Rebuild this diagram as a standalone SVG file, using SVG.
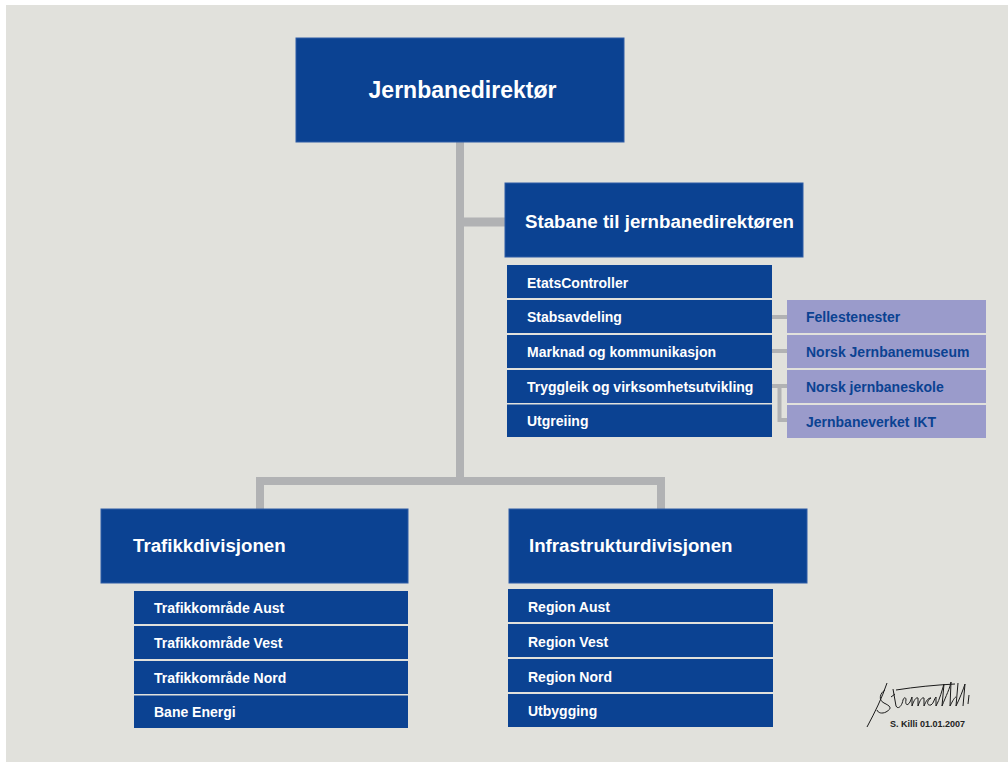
<svg xmlns="http://www.w3.org/2000/svg" width="1008" height="762" viewBox="0 0 1008 762">
<style>
.bg{fill:#e1e1dc}
.big{fill:#0b4292;stroke:#2f5ca6;stroke-width:1}
.row{fill:#0b4292}
.sub{fill:#9a9bcb}
.ln{stroke:#b1b2b4;fill:none}
.t{font-family:"Liberation Sans",Arial,sans-serif;font-weight:bold;fill:#ffffff}
.h1{font-size:23px}
.h2{font-size:18.7px}
.r{font-size:14px}
.p{font-size:14px;fill:#0b4292}
.sig{font-family:"Liberation Sans",Arial,sans-serif;font-weight:bold;font-size:9px;fill:#222}
</style>
<rect width="1008" height="762" fill="#ffffff"/>
<rect class="bg" x="6" y="5" width="1002" height="757"/>
<g id="connectors">
<line class="ln" x1="460" y1="142" x2="460" y2="485" stroke-width="8"/>
<line class="ln" x1="460" y1="222" x2="505" y2="222" stroke-width="9"/>
<polyline class="ln" points="260,509 260,481 661,481 661,509" stroke-width="8"/>
<line class="ln" x1="772" y1="317" x2="787" y2="317" stroke-width="4"/>
<line class="ln" x1="772" y1="351" x2="787" y2="351" stroke-width="4"/>
<line class="ln" x1="772" y1="386" x2="787" y2="386" stroke-width="4"/>
<polyline class="ln" points="779.5,386 779.5,420 787,420" stroke-width="4"/>
</g>
<g id="jernbanedirektor">
<rect class="big" x="296" y="38" width="328" height="104"/>
<text class="t h1" x="462.5" y="98" text-anchor="middle">Jernbanedirektør</text>
</g>
<g id="stabane">
<rect class="big" x="505" y="183" width="298" height="74"/>
<text class="t h2" x="525" y="228">Stabane til jernbanedirektøren</text>
</g>
<g id="stab-list">
<rect class="row" x="507" y="265" width="265" height="33"/>
<text class="t r" x="527" y="288">EtatsController</text>
<rect class="row" x="507" y="300" width="265" height="33"/>
<text class="t r" x="527" y="322">Stabsavdeling</text>
<rect class="row" x="507" y="335" width="265" height="33"/>
<text class="t r" x="527" y="357">Marknad og kommunikasjon</text>
<rect class="row" x="507" y="370" width="265" height="33"/>
<text class="t r" x="527" y="392">Tryggleik og virksomhetsutvikling</text>
<rect class="row" x="507" y="404.5" width="265" height="32.5"/>
<text class="t r" x="527" y="426">Utgreiing</text>
</g>
<g id="fellestenester">
<rect class="sub" x="787" y="300" width="199" height="33"/>
<text class="t p" x="806" y="322">Fellestenester</text>
</g>
<g id="norsk-jernbanemuseum">
<rect class="sub" x="787" y="335" width="199" height="33"/>
<text class="t p" x="806" y="357">Norsk Jernbanemuseum</text>
</g>
<g id="norsk-jernbaneskole">
<rect class="sub" x="787" y="370" width="199" height="33"/>
<text class="t p" x="806" y="392">Norsk jernbaneskole</text>
</g>
<g id="jernbaneverket-ikt">
<rect class="sub" x="787" y="405" width="199" height="33"/>
<text class="t p" x="806" y="427">Jernbaneverket IKT</text>
</g>
<g id="trafikkdivisjonen">
<rect class="big" x="101" y="509" width="307" height="74"/>
<text class="t h2" x="133" y="552">Trafikkdivisjonen</text>
</g>
<g id="trafikk-list">
<rect class="row" x="134" y="591" width="274" height="33"/>
<text class="t r" x="154" y="613">Trafikkområde Aust</text>
<rect class="row" x="134" y="626" width="274" height="33"/>
<text class="t r" x="154" y="648">Trafikkområde Vest</text>
<rect class="row" x="134" y="661" width="274" height="33"/>
<text class="t r" x="154" y="683">Trafikkområde Nord</text>
<rect class="row" x="134" y="695.5" width="274" height="32.5"/>
<text class="t r" x="154" y="717">Bane Energi</text>
</g>
<g id="infrastrukturdivisjonen">
<rect class="big" x="509" y="509" width="298" height="74"/>
<text class="t h2" x="529" y="552">Infrastrukturdivisjonen</text>
</g>
<g id="infra-list">
<rect class="row" x="508" y="589" width="265" height="33"/>
<text class="t r" x="528" y="612">Region Aust</text>
<rect class="row" x="508" y="624" width="265" height="33"/>
<text class="t r" x="528" y="647">Region Vest</text>
<rect class="row" x="508" y="659" width="265" height="33"/>
<text class="t r" x="528" y="682">Region Nord</text>
<rect class="row" x="508" y="694" width="265" height="33"/>
<text class="t r" x="528" y="716">Utbygging</text>
</g>
<g id="signature">
<path d="M867,727 C875,712 882,698 887,683 M885,690 C880,693 878,700 884,703 C890,706 893,708 886,712 C882,714 878,713 877,710 M891,697 L895,694 M893,689 L896,706 C898,710 902,706 903,700 C904,697 906,697 906,700 C905,704 907,707 910,702 L912,697 L912,706 C914,700 916,697 918,698 L918,706 C920,700 922,697 924,698 L924,706 C926,701 928,698 931,698 C927,700 926,706 931,705 C934,703 934,699 936,697 L936,706 C940,699 942,690 944,684 L942,706 C946,696 950,688 951,682 L950,706 C953,700 955,697 956,697 M958,683 L956,706 C960,698 963,690 965,684 L963,706 M969,695 L968,704 M896,690 C915,687 935,685 955,684" fill="none" stroke="#1a1a1a" stroke-width="1"/>
<text class="sig" x="890" y="727">S. Killi 01.01.2007</text>
</g>
</svg>
